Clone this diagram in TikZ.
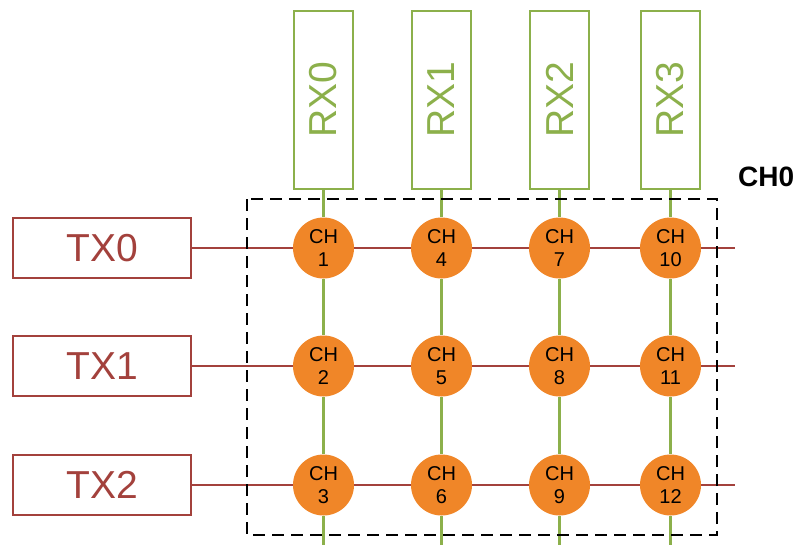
\documentclass[tikz,border=0pt]{standalone}
\usepackage{fontspec}
\setmainfont{Liberation Sans}
\usepackage{tikz}

\definecolor{txred}{HTML}{A3413C}
\definecolor{rxgreen}{HTML}{8CB04B}
\definecolor{chorange}{HTML}{F08628}

\begin{document}
\begin{tikzpicture}[x=1pt,y=-1pt,
txbox/.style={draw=txred,line width=2.2pt,minimum width=178pt,minimum height=60pt,inner sep=0pt,text=txred,font=\fontsize{39}{47}\selectfont},
rxbox/.style={draw=rxgreen,line width=2.2pt,minimum width=178pt,minimum height=59pt,inner sep=0pt,rotate=90,text=rxgreen,font=\fontsize{39}{47}\selectfont},
chnode/.style={circle,fill=chorange,minimum size=61pt,inner sep=0pt,align=center,font=\fontsize{20}{23.7}\selectfont},
txline/.style={draw=txred,line width=2.2pt},
rxline/.style={draw=rxgreen,line width=2.2pt},
zonebox/.style={draw=black,line width=2.6pt,dash pattern=on 12pt off 7pt}]

\useasboundingbox (0,0) rectangle (803,544);

\node[txbox] (tx0) at (102,248) {TX0};

\node[txbox] (tx1) at (102,366) {TX1};

\node[txbox] (tx2) at (102,485) {TX2};

\node[rxbox] (rx0) at (323.5,100) {RX0};

\node[rxbox] (rx1) at (441.5,100) {RX1};

\node[rxbox] (rx2) at (559.5,100) {RX2};

\node[rxbox] (rx3) at (670.5,100) {RX3};

\node[chnode] (ch1) at (323.5,248) {CH\\1};

\node[chnode] (ch2) at (323.5,366) {CH\\2};

\node[chnode] (ch3) at (323.5,485) {CH\\3};

\node[chnode] (ch4) at (441.5,248) {CH\\4};

\node[chnode] (ch5) at (441.5,366) {CH\\5};

\node[chnode] (ch6) at (441.5,485) {CH\\6};

\node[chnode] (ch7) at (559.5,248) {CH\\7};

\node[chnode] (ch8) at (559.5,366) {CH\\8};

\node[chnode] (ch9) at (559.5,485) {CH\\9};

\node[chnode] (ch10) at (670.5,248) {CH\\10};

\node[chnode] (ch11) at (670.5,366) {CH\\11};

\node[chnode] (ch12) at (670.5,485) {CH\\12};

\coordinate (tx0end) at (735,248);

\coordinate (tx1end) at (735,366);

\coordinate (tx2end) at (735,485);

\coordinate (rx0end) at (323.5,548);

\coordinate (rx1end) at (441.5,548);

\coordinate (rx2end) at (559.5,548);

\coordinate (rx3end) at (670.5,548);

% TX rows
\draw[txline] (tx0) -- (ch1) (ch1) -- (ch4) (ch4) -- (ch7) (ch7) -- (ch10) (ch10) -- (tx0end);

\draw[txline] (tx1) -- (ch2) (ch2) -- (ch5) (ch5) -- (ch8) (ch8) -- (ch11) (ch11) -- (tx1end);

\draw[txline] (tx2) -- (ch3) (ch3) -- (ch6) (ch6) -- (ch9) (ch9) -- (ch12) (ch12) -- (tx2end);

% RX columns
\draw[rxline] (rx0) -- (ch1) (ch1) -- (ch2) (ch2) -- (ch3) (ch3) -- (rx0end);

\draw[rxline] (rx1) -- (ch4) (ch4) -- (ch5) (ch5) -- (ch6) (ch6) -- (rx1end);

\draw[rxline] (rx2) -- (ch7) (ch7) -- (ch8) (ch8) -- (ch9) (ch9) -- (rx2end);

\draw[rxline] (rx3) -- (ch10) (ch10) -- (ch11) (ch11) -- (ch12) (ch12) -- (rx3end);

\draw[zonebox] (247,199) rectangle (717,535);

\node[anchor=base west,inner sep=0pt,font=\fontsize{28}{34}\selectfont\bfseries] (ch0) at (738,186) {CH0};

\end{tikzpicture}
\end{document}
